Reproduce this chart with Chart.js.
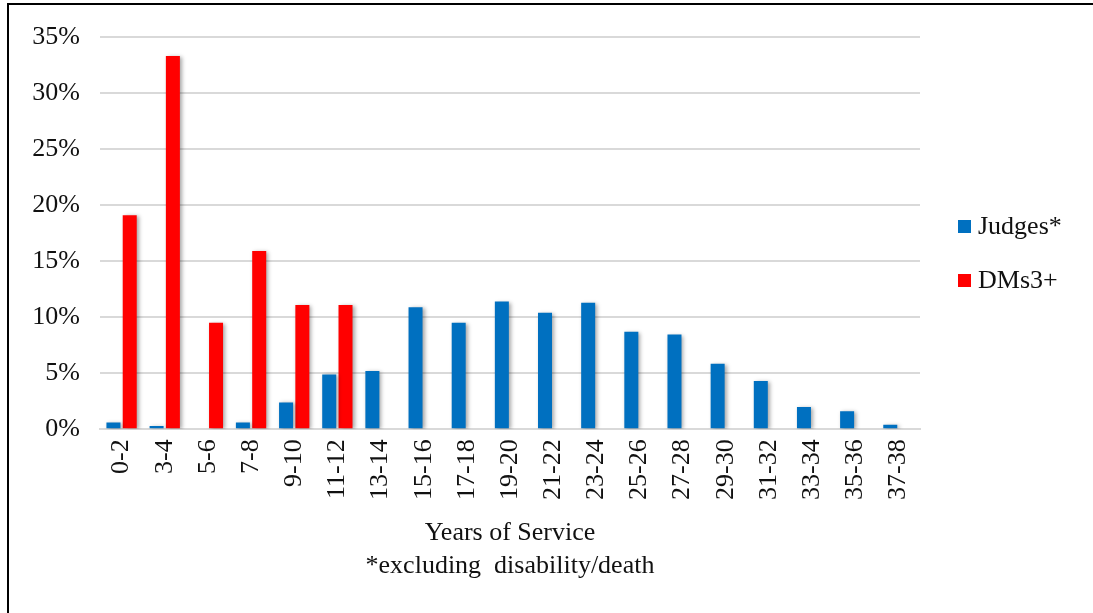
<!DOCTYPE html>
<html>
<head>
<meta charset="utf-8">
<script src="https://cdn.jsdelivr.net/npm/chart.js@4/dist/chart.umd.min.js"></script>
<style>
  html, body { margin: 0; padding: 0; background: #fff; }
  #wrap { position: relative; width: 1093px; height: 613px; overflow: hidden; background: #fff; }
  #frame { position: absolute; left: 7px; top: 3px; width: 1200px; height: 700px;
           border-top: 2px solid #000; border-left: 2px solid #000; box-sizing: border-box; }
  canvas { position: absolute; left: 0; top: 0; }
  #legend { position: absolute; left: 958px; top: 0; font-family: "Liberation Serif", "Times New Roman", serif;
            font-size: 26px; color: #111; }
  .item { position: absolute; left: 0; white-space: nowrap; display: flex; align-items: center; height: 30px; }
  .box { width: 13px; height: 13px; margin-right: 7px; }
</style>
</head>
<body>
<div id="wrap">
  <div id="frame"></div>
  <canvas id="c" width="1093" height="613"></canvas>
  <div id="legend"></div>
</div>
<script>
// Service-length brackets (years)
const categories = ['0-2', '3-4', '5-6', '7-8', '9-10', '11-12', '13-14', '15-16', '17-18', '19-20',
                    '21-22', '23-24', '25-26', '27-28', '29-30', '31-32', '33-34', '35-36', '37-38'];
// Share of departures per bracket, in percent
const judges = [0.6, 0.3, 0, 0.6, 2.4, 4.9, 5.2, 10.9, 9.5, 11.4, 10.4, 11.3, 8.7, 8.45, 5.85, 4.3, 2.0, 1.6, 0.4];
const dms = [19.1, 33.3, 9.5, 15.9, 11.1, 11.1, null, null, null, null, null, null, null, null, null, null, null, null, null];
const seriesNames = ['Judges*', 'DMs3+'];
const seriesColors = ['#0070C0', '#FF0000'];
const yTicks = [0, 5, 10, 15, 20, 25, 30, 35];
const axisTitle = ['Years of Service', '*excluding  disability/death'];

const serif = '"Liberation Serif", "Times New Roman", serif';
const textColor = '#111';

// Soft drop shadow behind the bars
const barShadow = {
  id: 'barShadow',
  beforeDatasetsDraw(chart) {
    const ctx = chart.ctx;
    ctx.save();
    ctx.shadowColor = 'rgba(0,0,0,0.35)';
    ctx.shadowBlur = 4;
    ctx.shadowOffsetX = 2;
    ctx.shadowOffsetY = 1;
  },
  afterDatasetsDraw(chart) {
    chart.ctx.restore();
  }
};

const chart = new Chart(document.getElementById('c'), {
  type: 'bar',
  data: {
    labels: categories,
    datasets: [
      { label: seriesNames[0], data: judges, backgroundColor: seriesColors[0] },
      { label: seriesNames[1], data: dms, backgroundColor: seriesColors[1] }
    ]
  },
  options: {
    responsive: false,
    animation: false,
    devicePixelRatio: 1,
    categoryPercentage: 0.755,
    barPercentage: 0.86,
    layout: { padding: { left: 30, right: 173, top: 37, bottom: 28 } },
    plugins: {
      legend: { display: false },
      tooltip: { enabled: false }
    },
    scales: {
      x: {
        grid: { display: false, drawTicks: false },
        border: { display: true, color: '#d9d9d9', width: 2 },
        ticks: {
          color: textColor,
          font: { family: serif, size: 26 },
          minRotation: 90, maxRotation: 90,
          padding: 10,
          autoSkip: false
        },
        title: {
          display: true,
          text: axisTitle,
          color: textColor,
          font: { family: serif, size: 26, lineHeight: 1.27 },
          padding: { top: 7, bottom: 2 }
        }
      },
      y: {
        min: 0, max: 35,
        afterBuildTicks(scale) { scale.ticks = yTicks.map(v => ({ value: v })); },
        grid: { color: '#d9d9d9', lineWidth: 2, drawTicks: false },
        border: { display: false },
        ticks: {
          color: textColor,
          font: { family: serif, size: 26 },
          padding: 20,
          callback: v => v + '%'
        },
        afterFit(scale) { scale.width = 70; }
      }
    }
  },
  plugins: [barShadow]
});

// Legend items built from the datasets
const legend = document.getElementById('legend');
const legendY = [211, 265];
chart.data.datasets.forEach((ds, i) => {
  const item = document.createElement('div');
  item.className = 'item';
  item.style.top = legendY[i] + 'px';
  const box = document.createElement('span');
  box.className = 'box';
  box.style.background = ds.backgroundColor;
  const txt = document.createElement('span');
  txt.textContent = ds.label;
  item.appendChild(box);
  item.appendChild(txt);
  legend.appendChild(item);
});
</script>
</body>
</html>
